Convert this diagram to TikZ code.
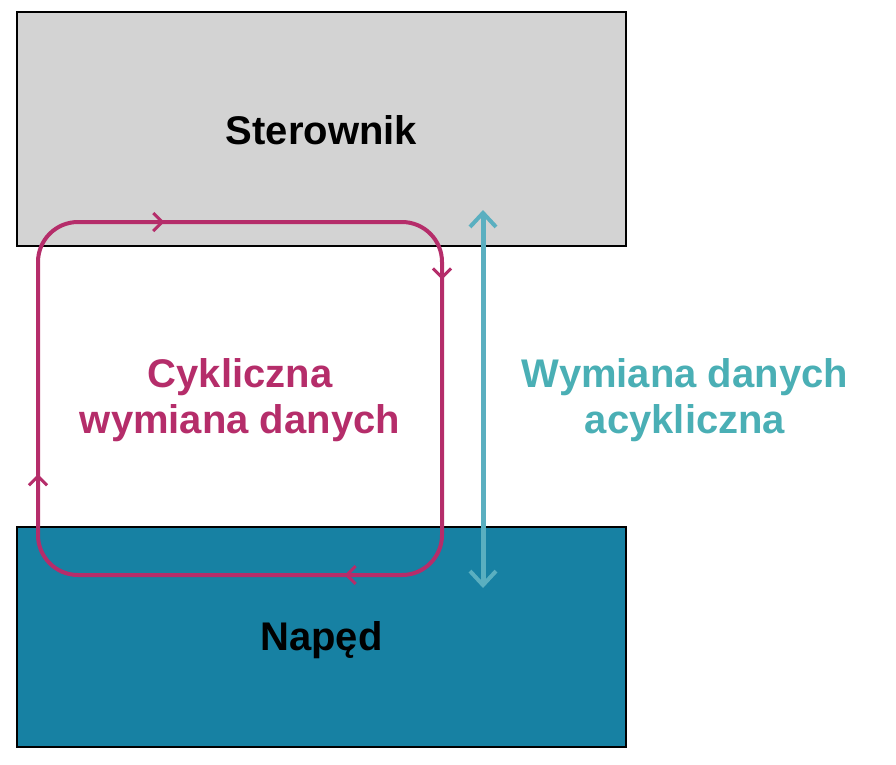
\documentclass[tikz,border=0pt]{standalone}
\usepackage{fontspec}
\setmainfont{Liberation Sans}
\usetikzlibrary{arrows.meta,decorations.markings}
\definecolor{boxgray}{HTML}{D3D3D3}
\definecolor{driveblue}{HTML}{1781A3}
\definecolor{loopred}{HTML}{B52D6A}
\definecolor{acyan}{HTML}{5AAFC0}
\definecolor{acyantext}{HTML}{4AAFB5}
\begin{document}
\begin{tikzpicture}[x=1pt,y=-1pt]
\tikzset{every node/.style={font=\fontsize{40}{46}\selectfont\bfseries},
  unitbox/.style={draw=black,line width=1.5pt,minimum width=609pt,inner sep=0pt},
  tipmark/.style={decoration={markings,
    mark=at position 0.14 with {\arrow{Straight Barb[length=9pt,width=18pt,line width=3pt]}},
    mark=at position 0.40 with {\arrow{Straight Barb[length=9pt,width=18pt,line width=3pt]}},
    mark=at position 0.67 with {\arrow{Straight Barb[length=9pt,width=18pt,line width=3pt]}},
    mark=at position 0.92 with {\arrow{Straight Barb[length=9pt,width=18pt,line width=3pt]}}},
    postaction={decorate}}}
\useasboundingbox (0,0) rectangle (896,764);

% Boxes
\node[unitbox,fill=boxgray,minimum height=234pt] (ster) at (321.5,129) {};
\node at (321.5,130) (stertxt) {Sterownik};
\node[unitbox,fill=driveblue,minimum height=220pt] (naped) at (321.5,637) {};
\node at (321.5,640) (napedtxt) {Napęd};

% Cyclic loop
\draw[loopred,line width=4pt,rounded corners=40pt,tipmark]
  (240,222) -- (442,222) -- (442,575) -- (38,575) -- (38,222) -- cycle;
\node[loopred,align=center] at (240,400) (cyc) {Cykliczna\\wymiana danych};

% Acyclic exchange
\coordinate (atop) at (483,210);
\coordinate (abot) at (483,588);
\draw[acyan,line width=5pt,{Straight Barb[length=14pt,width=26pt,line width=4pt]}-{Straight Barb[length=14pt,width=26pt,line width=4pt]}] (atop) -- (abot);
\node[acyantext,align=center] at (685,400) (acyc) {Wymiana danych\\acykliczna};
\end{tikzpicture}
\end{document}
